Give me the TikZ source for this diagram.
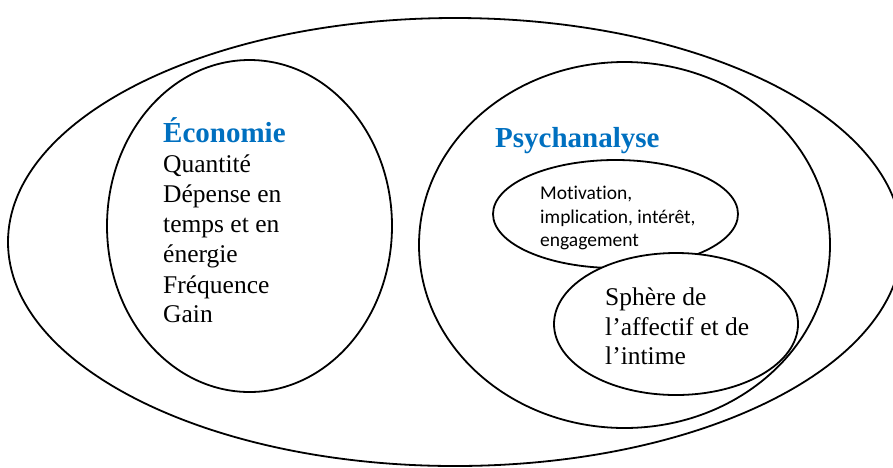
\documentclass[tikz,border=0pt]{standalone}
\usepackage{fontspec}
\setmainfont{Liberation Serif}
\newfontfamily\calib[RawFeature={-liga;-clig;-calt;-dlig}]{Carlito}
\usetikzlibrary{shapes.geometric}
\definecolor{titleblue}{RGB}{0,112,192}
\begin{document}
\begin{tikzpicture}[x=1pt,y=-1pt,
  ring/.style={draw, ellipse, line width=1.8pt, inner sep=0pt, fill=white},
  title/.style={anchor=base west, inner sep=0pt, text=titleblue, font=\fontsize{29}{34}\selectfont\bfseries},
  body/.style={anchor=base west, inner sep=0pt, font=\fontsize{25.5}{30}\selectfont},
  small/.style={anchor=base west, inner sep=0pt, font=\calib\fontsize{19.5}{23}\selectfont}]
\useasboundingbox (0,0) rectangle (893,467);
\clip (0,0) rectangle (893,467);
\node[ring, minimum width=894pt, minimum height=448pt] (outer) at (455,242) {};
\node[ring, minimum width=285pt, minimum height=332pt] (eco) at (249.5,226) {};
\node[ring, minimum width=411pt, minimum height=366pt] (psy) at (624.5,245) {};
\node[ring, minimum width=245pt, minimum height=108pt] (moti) at (615.5,214) {};
\node[ring, minimum width=244pt, minimum height=142pt] (sph) at (676,324) {};
% Economie
\node[title] (ecot) at (163,142) {Économie};
\node[body] (e1) at (163,172) {Quantité};
\node[body] (e2) at (163,202) {Dépense en};
\node[body] (e3) at (163,232) {temps et en};
\node[body] (e4) at (163,262) {énergie};
\node[body] (e5) at (163,293) {Fréquence};
\node[body] (e6) at (163,322) {Gain};
% Psychanalyse
\node[title] (psyt) at (495,147) {Psychanalyse};
\node[small] (m1) at (540,199) {Mot\kern0pt ivat\kern0pt ion,};
\node[small] (m2) at (540,223) {implicat\kern0pt ion, intérêt,};
\node[small] (m3) at (540,246) {engagement};
\node[body] (s1) at (605,305) {Sphère de};
\node[body] (s2) at (605,335) {l’affectif et de};
\node[body] (s3) at (605,364) {l’intime};
\end{tikzpicture}
\end{document}
